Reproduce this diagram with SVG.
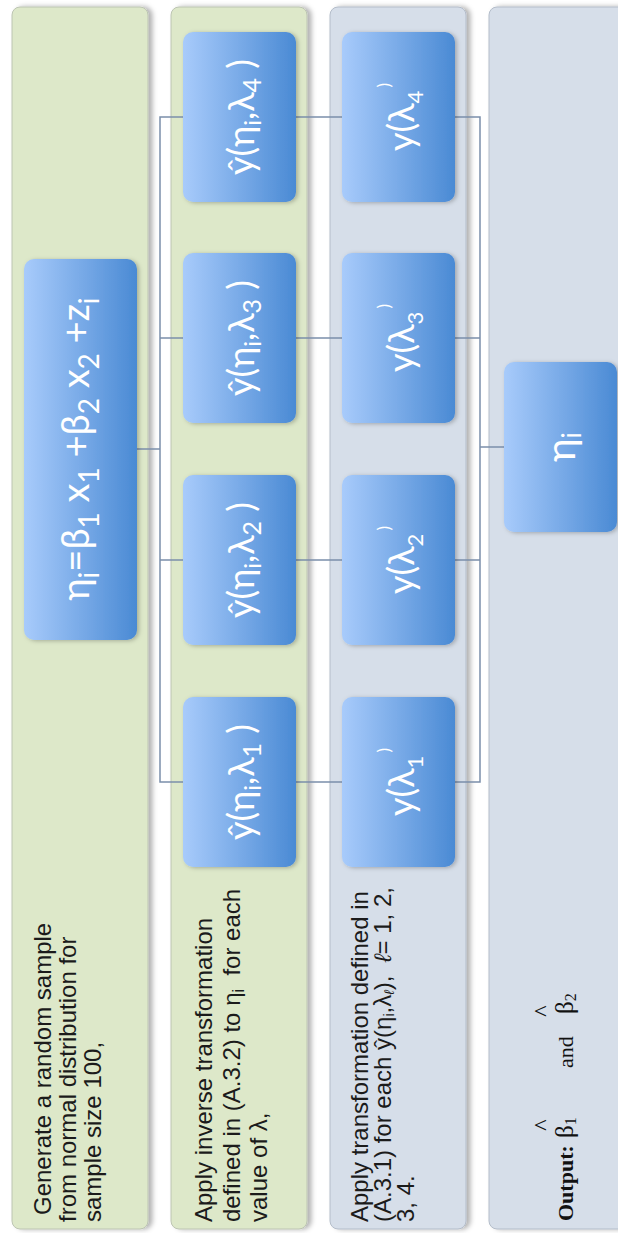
<svg xmlns="http://www.w3.org/2000/svg" width="618" height="1233" viewBox="0 0 618 1233">
<style>
.lt{font-family:"Liberation Sans",Arial,sans-serif;font-size:24px;fill:#1b1b1b}
.ot{font-family:"Liberation Serif","Times New Roman",serif;font-size:22px;fill:#111}
.nt{font-family:Lato,"Open Sans",sans-serif;fill:#fff;text-anchor:middle}
.lg{fill:#dde8c9;stroke:#bcc4b2;stroke-width:1}
.lb{fill:#d6dee9;stroke:#b3bcc9;stroke-width:1}
.node{fill:url(#ng)}
.conn{stroke:#7b8fab;stroke-width:1.5;fill:none}
</style>
<defs>
<linearGradient id="ng" x1="0" y1="0" x2="1" y2="0">
<stop offset="0" stop-color="#a8cbfb"/>
<stop offset="1" stop-color="#4a8ad4"/>
</linearGradient>
<filter id="ls" x="-10%" y="-5%" width="130%" height="110%">
<feDropShadow dx="4" dy="0" stdDeviation="2.5" flood-color="#000" flood-opacity="0.3"/>
</filter>
<filter id="ns" x="-10%" y="-10%" width="130%" height="130%">
<feDropShadow dx="2" dy="1" stdDeviation="2" flood-color="#000" flood-opacity="0.25"/>
</filter>
</defs>

<g id="lane1">
<rect class="lg" x="12" y="7" width="136" height="1222" rx="8" filter="url(#ls)"/>
<g transform="rotate(-90)" class="lt">
<text x="-1215" y="51">Generate a random sample</text>
<text x="-1222" y="76">from normal distribution for</text>
<text x="-1222" y="101">sample size 100,</text>
</g>
</g>
<g id="lane2">
<rect class="lg" x="171" y="7" width="136" height="1222" rx="8" filter="url(#ls)"/>
<g transform="rotate(-90)" class="lt">
<text x="-1222" y="212">Apply inverse transformation</text>
<text x="-1222" y="240" xml:space="preserve">defined in (A.3.2) to η<tspan font-size="16" dy="4">i</tspan><tspan dy="-4">  for each</tspan></text>
<text x="-1222" y="267">value of λ,</text>
</g>
</g>
<g id="lane3">
<rect class="lb" x="330" y="7" width="136" height="1222" rx="8" filter="url(#ls)"/>
<g transform="rotate(-90)" class="lt">
<text x="-1222" y="368">Apply transformation defined in</text>
<text x="-1222" y="391" xml:space="preserve">(A.3.1) for each ŷ(η<tspan font-size="14" dy="3">i</tspan><tspan dy="-3">,λ</tspan><tspan font-size="14" dy="3" font-style="italic">ℓ</tspan><tspan dy="-3">),  </tspan><tspan font-style="italic">ℓ</tspan>= 1, 2,</text>
<text x="-1222" y="414">3, 4.</text>
</g>
</g>
<g id="lane4">
<rect class="lb" x="489" y="7" width="160" height="1222" rx="8" filter="url(#ls)"/>
<g transform="rotate(-90)" class="ot">
<text x="-1221" y="573" font-weight="bold">Output:</text>
<text x="-1138" y="573" font-size="25">β<tspan font-size="16" dy="3">1</tspan></text>
<text x="-1125" y="550" font-size="24" text-anchor="middle">^</text>
<text x="-1068" y="573">and</text>
<text x="-1014" y="573" font-size="25">β<tspan font-size="16" dy="3">2</tspan></text>
<text x="-1011" y="550" font-size="24" text-anchor="middle">^</text>
</g>
</g>

<g id="connectors">
<path class="conn" d="M137,449 H160"/>
<path class="conn" d="M183,117 H160 V782 H183 M160,338 H183 M160,560 H183"/>
<path class="conn" d="M296,117 H342 M296,338 H342 M296,560 H342 M296,782 H342"/>
<path class="conn" d="M455,117 H480 V782 H455 M455,338 H480 M455,560 H480 M480,447 H504"/>
</g>

<g id="node-eq">
<rect class="node" x="24" y="259" width="113" height="381" rx="10" filter="url(#ns)"/>
<text class="nt" font-size="38" transform="translate(89,449) rotate(-90)">η<tspan font-size="28" dy="10">i</tspan><tspan dy="-10">=β</tspan><tspan font-size="28" dy="10">1</tspan><tspan dy="-10"> x</tspan><tspan font-size="28" dy="10">1</tspan><tspan dy="-10"> +β</tspan><tspan font-size="28" dy="10">2</tspan><tspan dy="-10"> x</tspan><tspan font-size="28" dy="10">2</tspan><tspan dy="-10"> +z</tspan><tspan font-size="28" dy="10">i</tspan></text>
</g>

<g id="node-yhat4">
<rect class="node" x="183" y="32" width="113" height="170" rx="10" filter="url(#ns)"/>
<text class="nt" font-size="36" transform="translate(254,117) rotate(-90)">ŷ(η<tspan font-size="24" dy="7">i</tspan><tspan dy="-7">,λ</tspan><tspan font-size="25" dy="7">4</tspan><tspan dy="-7"> )</tspan></text>
</g>
<g id="node-yhat3">
<rect class="node" x="183" y="253" width="113" height="170" rx="10" filter="url(#ns)"/>
<text class="nt" font-size="36" transform="translate(254,338) rotate(-90)">ŷ(η<tspan font-size="24" dy="7">i</tspan><tspan dy="-7">,λ</tspan><tspan font-size="25" dy="7">3</tspan><tspan dy="-7"> )</tspan></text>
</g>
<g id="node-yhat2">
<rect class="node" x="183" y="475" width="113" height="170" rx="10" filter="url(#ns)"/>
<text class="nt" font-size="36" transform="translate(254,560) rotate(-90)">ŷ(η<tspan font-size="24" dy="7">i</tspan><tspan dy="-7">,λ</tspan><tspan font-size="25" dy="7">2</tspan><tspan dy="-7"> )</tspan></text>
</g>
<g id="node-yhat1">
<rect class="node" x="183" y="697" width="113" height="170" rx="10" filter="url(#ns)"/>
<text class="nt" font-size="36" transform="translate(254,782) rotate(-90)">ŷ(η<tspan font-size="24" dy="7">i</tspan><tspan dy="-7">,λ</tspan><tspan font-size="25" dy="7">1</tspan><tspan dy="-7"> )</tspan></text>
</g>

<g id="node-y4">
<rect class="node" x="342" y="32" width="113" height="170" rx="10" filter="url(#ns)"/>
<text class="nt" font-size="36" transform="translate(414,117) rotate(-90)">y(λ<tspan font-size="22" dy="9">4</tspan><tspan font-size="17" dx="3" dy="-33">)</tspan></text>
</g>
<g id="node-y3">
<rect class="node" x="342" y="253" width="113" height="170" rx="10" filter="url(#ns)"/>
<text class="nt" font-size="36" transform="translate(414,338) rotate(-90)">y(λ<tspan font-size="22" dy="9">3</tspan><tspan font-size="17" dx="3" dy="-33">)</tspan></text>
</g>
<g id="node-y2">
<rect class="node" x="342" y="475" width="113" height="170" rx="10" filter="url(#ns)"/>
<text class="nt" font-size="36" transform="translate(414,560) rotate(-90)">y(λ<tspan font-size="22" dy="9">2</tspan><tspan font-size="17" dx="3" dy="-33">)</tspan></text>
</g>
<g id="node-y1">
<rect class="node" x="342" y="697" width="113" height="170" rx="10" filter="url(#ns)"/>
<text class="nt" font-size="36" transform="translate(414,782) rotate(-90)">y(λ<tspan font-size="22" dy="9">1</tspan><tspan font-size="17" dx="3" dy="-33">)</tspan></text>
</g>

<g id="node-eta">
<rect class="node" x="504" y="362" width="113" height="170" rx="10" filter="url(#ns)"/>
<text class="nt" font-size="40" transform="translate(575,447) rotate(-90)">η<tspan font-size="26" dy="6">i</tspan></text>
</g>
</svg>
